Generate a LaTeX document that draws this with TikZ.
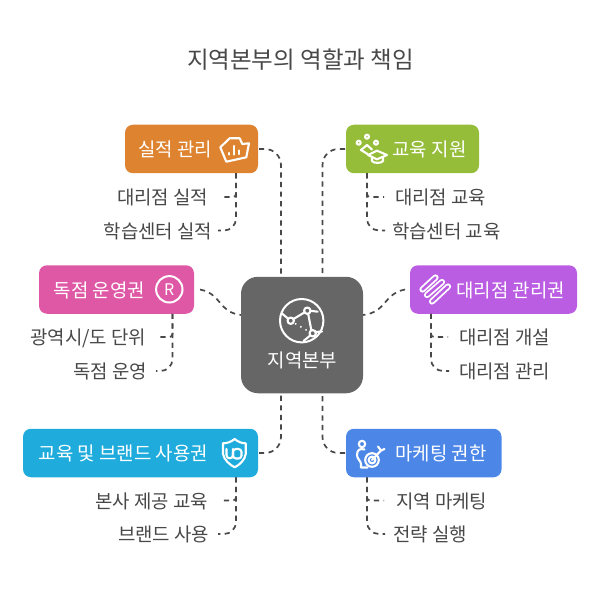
\documentclass[tikz,border=0pt]{standalone}
\usepackage{fontspec}
\setmainfont{Noto Sans CJK KR}
\usepackage{xcolor}
\usetikzlibrary{calc}
\definecolor{perfcol}{HTML}{DE8431}
\definecolor{educol}{HTML}{95BD3A}
\definecolor{licencecol}{HTML}{DE58A6}
\definecolor{agentcol}{HTML}{BA5DE3}
\definecolor{brandcol}{HTML}{1FACDC}
\definecolor{marketcol}{HTML}{4C87E8}
\definecolor{hubcol}{HTML}{666666}
\definecolor{inkcol}{HTML}{484848}
\begin{document}
\begin{tikzpicture}[x=1pt,y=-1pt,
lead box/.style={rectangle, rounded corners=8, inner sep=0, outer sep=0, minimum height=48.5},
lead text/.style={inner sep=0, text=white, font=\fontsize{18.9}{20}\selectfont, text height=16, text depth=1},
item text/.style={inner sep=0, text=inkcol, font=\fontsize{18.9}{20}\selectfont, text height=16, text depth=1},
link/.style={draw=inkcol, line width=1.7, dash pattern=on 5.2pt off 4.4pt},
icon/.style={draw=white, line width=2.1, line join=round, line cap=round}]
\useasboundingbox (0,0) rectangle (600,591);
\node[inner sep=0, text=inkcol, font=\fontsize{23.5}{26}\selectfont, text height=19, text depth=1] (title) at (300.5,60) {지역본부의 역할과 책임};
% centre
\node[rectangle, rounded corners=17, fill=hubcol, inner sep=0, minimum width=122, minimum height=116.5] (hub) at (302,335) {};
\node[lead text] (hub text) at (302.5,360) {지역본부};
% boxes
\node[lead box, fill=perfcol, minimum width=133] (perf) at (191.5,149) {};
\node[lead box, fill=educol, minimum width=133] (edu) at (412.5,149) {};
\node[lead box, fill=licencecol, minimum width=155] (licence) at (116.5,289.5) {};
\node[lead box, fill=agentcol, minimum width=167] (agent) at (493.5,289.5) {};
\node[lead box, fill=brandcol, minimum width=235] (brand) at (140.5,453) {};
\node[lead box, fill=marketcol, minimum width=155.5] (market) at (423.75,453) {};
\node[lead text] (perf text) at (175,149) {실적 관리};
\node[lead text] (edu text) at (429.5,149) {교육 지원};
\node[lead text] (licence text) at (99.5,289.5) {독점 운영권};
\node[lead text] (agent text) at (510.5,289.5) {대리점 관리권};
\node[lead text] (brand text) at (123.5,453) {교육 및 브랜드 사용권};
\node[lead text] (market text) at (441,453) {마케팅 권한};
% items
\node[item text, anchor=east] (perf a) at (208.5,197) {대리점 실적};
\node[item text, anchor=east] (perf b) at (212.5,230.5) {학습센터 실적};
\node[item text, anchor=west] (edu a) at (395,197) {대리점 교육};
\node[item text, anchor=west] (edu b) at (392,230.5) {학습센터 교육};
\node[item text, anchor=east] (licence a) at (146.5,337) {광역시/도 단위};
\node[item text, anchor=east] (licence b) at (147.5,371) {독점 운영};
\node[item text, anchor=west] (agent a) at (459,337) {대리점 개설};
\node[item text, anchor=west] (agent b) at (459,371) {대리점 관리};
\node[item text, anchor=east] (brand a) at (208.5,500.5) {본사 제공 교육};
\node[item text, anchor=east] (brand b) at (209.5,534) {브랜드 사용};
\node[item text, anchor=west] (market a) at (396,500.5) {지역 마케팅};
\node[item text, anchor=west] (market b) at (393,534) {전략 실행};
% drop points under the boxes
\coordinate (perf drop) at ([xshift=-22]perf.south east);
\coordinate (edu drop) at ([xshift=21]edu.south west);
\coordinate (licence drop) at ([xshift=-21.5]licence.south east);
\coordinate (agent drop) at ([xshift=21]agent.south west);
\coordinate (brand drop) at ([xshift=-22]brand.south east);
\coordinate (market drop) at ([xshift=21]market.south west);
% hub connectors
\draw[link, rounded corners=16] ([xshift=1]perf.east) -| ([xshift=-21]hub.north);
\draw[link, rounded corners=16] ([xshift=-1]edu.west) -| ([xshift=20.5]hub.north);
\draw[link, rounded corners=16] ([xshift=1]brand.east) -| ([xshift=-21]hub.south);
\draw[link, rounded corners=16] ([xshift=-1]market.west) -| ([xshift=20.5]hub.south);
\draw[link] ([xshift=6]licence.east) .. controls (222,294) and (218,312) .. ([yshift=20]hub.west);
\draw[link] ([xshift=-5]agent.west) .. controls (383,294) and (387,312) .. ([yshift=20]hub.east);
% item connectors
\draw[link, rounded corners=3] (perf drop) |- ([xshift=11.5]perf a.east);
\draw[link, rounded corners=12] (perf drop) |- ([xshift=5.5]perf b.east);
\draw[link, rounded corners=3] (edu drop) |- ([xshift=-11]edu a.west);
\draw[link, rounded corners=12] (edu drop) |- ([xshift=-7]edu b.west);
\draw[link, rounded corners=3] (licence drop) |- ([xshift=9.5]licence a.east);
\draw[link, rounded corners=12] (licence drop) |- ([xshift=8.5]licence b.east);
\draw[link, rounded corners=3] (agent drop) |- ([xshift=-11]agent a.west);
\draw[link, rounded corners=12] (agent drop) |- ([xshift=-10]agent b.west);
\draw[link, rounded corners=3] (brand drop) |- ([xshift=11.5]brand a.east);
\draw[link, rounded corners=12] (brand drop) |- ([xshift=8.5]brand b.east);
\draw[link, rounded corners=3] (market drop) |- ([xshift=-12]market a.west);
\draw[link, rounded corners=12] (market drop) |- ([xshift=-8]market b.west);
% icon: basket with bars
\draw[icon] (220.3,147.3) -- (229.7,138.3) -- (239.7,138.3) -- (242.3,144) -- (249,143.3) -- (246.3,157.3) -- (226.3,161.7) -- cycle;
\draw[icon] (228.7,154.5) -- (228.7,153) (233.7,154.5) -- (233.7,146) (239,154) -- (239,150.5);
% icon: group and cap
\draw[icon] (358.7,142.7) circle (2) (367,136.7) circle (2) (376,142.7) circle (2);
\draw[icon] (367.5,154) -- (361,150) -- (367,145) -- (372,149.5);
\draw[icon] (368,155) -- (377,150.7) -- (387,155) -- (377,159.3) -- cycle;
\draw[icon] (372,157.5) -- (372,161) .. controls (373,163.5) and (382,163.5) .. (383,161) -- (383,157.5);
% icon: R
\draw[white, line width=2] (169.3,289.3) circle (13.2);
\node[inner sep=0, text=white, font=\fontsize{16}{17}\selectfont] (licence mark) at (169.3,289.3) {R};
% icon: pills
\foreach \a/\b/\c/\d in {422.5/289.5/435.5/277.5, 427/295/442/282, 432/301.5/448/286.5}{
\draw[white, line width=6.2, line cap=round] (\a,\b) -- (\c,\d);
\draw[agentcol, line width=2.6, line cap=round] (\a,\b) -- (\c,\d);
}
% icon: shield
\draw[icon] (234.7,439) .. controls (231,442) and (227,443.3) .. (223,443.3) -- (223,454) .. controls (224,460) and (230,465) .. (234.7,467.3) .. controls (239.4,465) and (245,460) .. (245.7,454) -- (245.7,443.3) .. controls (242,443.3) and (238,442) .. (234.7,439) -- cycle;
\draw[icon] (226.5,449) -- (226.5,455) .. controls (226.5,459.5) and (233,459.5) .. (233,455) -- (233,449);
\draw[icon, rounded corners=3] (233,449) rectangle (241.5,458.5);
% icon: target person
\draw[icon] (362,444) circle (3.2);
\draw[icon] (364.5,449.5) .. controls (360,448) and (357,450) .. (357,455) .. controls (357,459) and (361,461) .. (361,464) -- (361,467.5) -- (367.5,467.5);
\draw[icon] (372,460) circle (6.8) (372,460) circle (3.4);
\draw[icon] (372,460) -- (381,450.5) (378,446.5) -- (381,450.5) -- (384.5,449);
% icon: network globe
\draw[white, line width=2] (301.7,320.7) circle (21.7);
\draw[icon] (290.7,320.7) circle (3.2) (307.3,310.7) circle (3.2) (312.7,333.3) circle (3.2);
\draw[icon] (281.7,313.3) -- (288.2,318.7) (293.5,319) -- (304.5,312.4) (310.5,310.8) -- (317.7,311.7) (308.2,314) -- (311.3,330) (310.2,335.5) -- (303.5,341) (315.5,332) -- (322,331.5);
\draw[white, line width=1.5, dash pattern=on 1.5pt off 4.5pt] (295,323.5) -- (308,331);
\end{tikzpicture}
\end{document}
